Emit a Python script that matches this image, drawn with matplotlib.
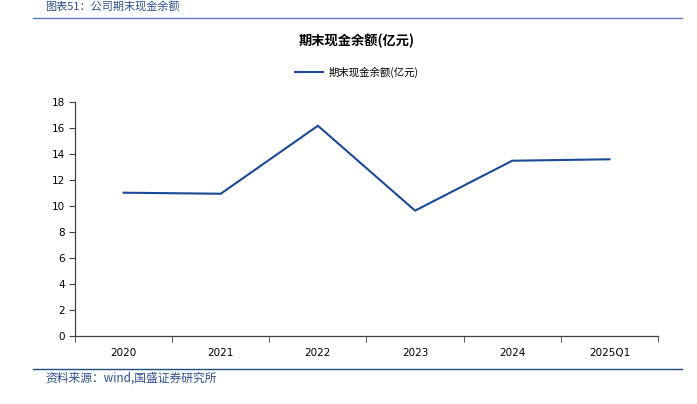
#!/usr/bin/env python3
"""期末现金余额 line chart"""

import matplotlib
matplotlib.use('Agg')
import matplotlib.pyplot as plt
from matplotlib.lines import Line2D
from matplotlib.ticker import FixedLocator

plt.rcParams['font.family'] = ['Noto Sans CJK SC', 'DejaVu Sans']

categories = ['2020', '2021', '2022', '2023', '2024', '2025Q1']
cash_balance = [11.0, 10.92, 16.15, 9.62, 13.46, 13.57]
y_ticks = [0, 2, 4, 6, 8, 10, 12, 14, 16, 18]

header_text = '图表51：公司期末现金余额'
source_text = '资料来源：wind,国盛证券研究所'
chart_title = '期末现金余额(亿元)'
series_name = '期末现金余额(亿元)'

line_color = '#1A4A94'
header_color = '#2E4F8F'
axis_color = '#404040'

fig = plt.figure(figsize=(6.97, 4.04), dpi=100)
ax = fig.add_axes([75 / 697, 1 - 335.7 / 404, 583 / 697, 234 / 404])

x = list(range(len(categories)))
ax.plot(x, cash_balance, color=line_color, linewidth=1.5, label=series_name)

ax.set_xlim(-0.5, len(categories) - 0.5)
ax.set_ylim(0, 18)
ax.set_yticks(y_ticks)
ax.set_xticks(x)
ax.set_xticklabels(categories)
ax.xaxis.set_minor_locator(FixedLocator([i - 0.5 for i in range(len(categories) + 1)]))
ax.tick_params(axis='x', which='major', length=0, pad=9, labelsize=7.5)
ax.tick_params(axis='x', which='minor', length=4, color=axis_color)
ax.tick_params(axis='y', length=4, color=axis_color, labelsize=7.5, pad=3)
for lbl in ax.get_xticklabels() + ax.get_yticklabels():
    lbl.set_family(['DejaVu Sans'])

for side in ('top', 'right'):
    ax.spines[side].set_visible(False)
for side in ('left', 'bottom'):
    ax.spines[side].set_color(axis_color)
    ax.spines[side].set_linewidth(0.9)

fig.text(357 / 697, 1 - 41 / 404, chart_title, ha='center', va='center',
         fontsize=9.5, fontweight='bold', color='black')

fig.legend(handles=[Line2D([0], [0], color=line_color, linewidth=1.5)],
           labels=[series_name], loc='center', bbox_to_anchor=(357 / 697, 1 - 72 / 404),
           frameon=False, fontsize=7.5, handlelength=2.7, handletextpad=0.5)

fig.text(45 / 697, 1 - 6.5 / 404, header_text, ha='left', va='center',
         fontsize=8, color=header_color, style='italic')
fig.add_artist(Line2D([33 / 697, 682 / 697], [1 - 18 / 404, 1 - 18 / 404],
                      color='#5B7FC0', linewidth=1.0))
fig.add_artist(Line2D([33 / 697, 682 / 697], [1 - 369 / 404, 1 - 369 / 404],
                      color='#1F4E79', linewidth=1.0))
fig.text(45 / 697, 1 - 378 / 404, source_text, ha='left', va='center',
         fontsize=8.5, color=header_color, style='italic')

fig.savefig('out.png', dpi=100)
